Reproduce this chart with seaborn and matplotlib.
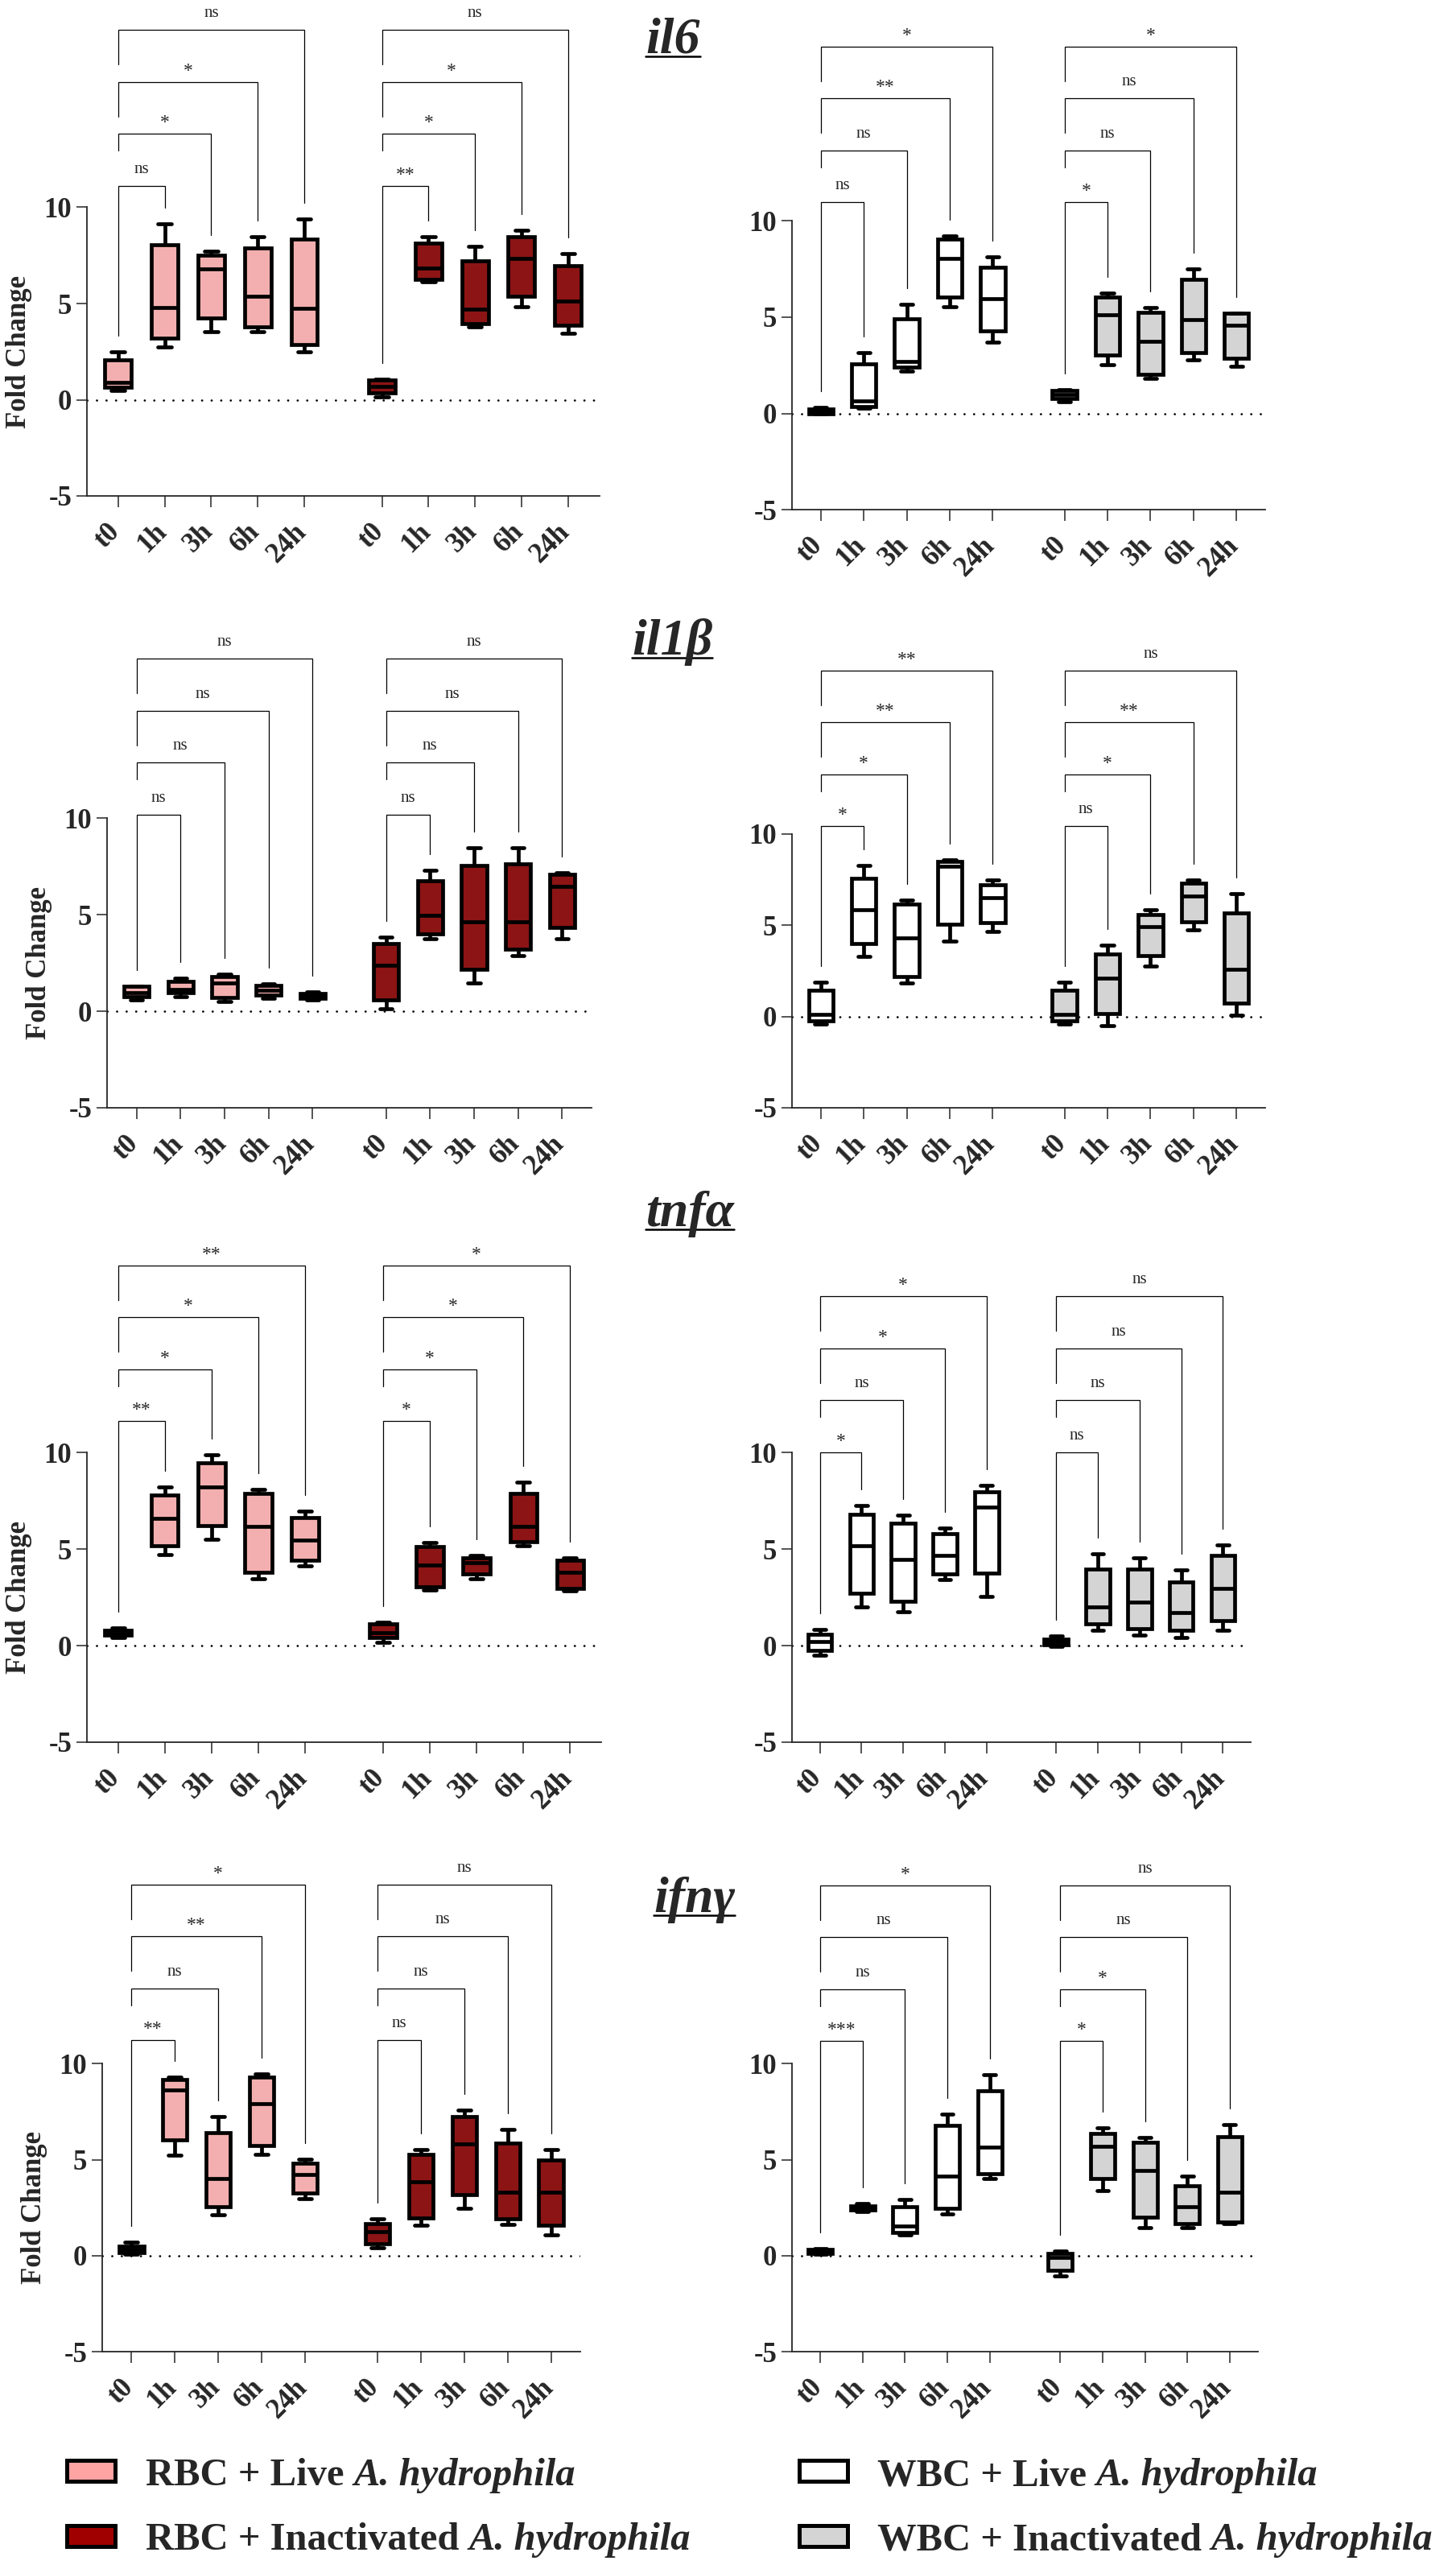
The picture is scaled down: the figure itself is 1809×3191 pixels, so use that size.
import numpy as np
import pandas as pd
import matplotlib
matplotlib.use("Agg")
import matplotlib.pyplot as plt
import seaborn as sns
from matplotlib.patches import Rectangle
from matplotlib.lines import Line2D
from matplotlib.transforms import blended_transform_factory, ScaledTranslation

# ---------------- data ----------------
time_labels = ["t0", "1h", "3h", "6h", "24h"]
gene_titles = ["il6", "il1β", "tnfα", "ifnγ"]
group_names = ["RBC + Live", "RBC + Inactivated", "WBC + Live", "WBC + Inactivated"]
species = "A. hydrophila"

# each box: [min, Q1, median, Q3, max] (Fold Change)
il6_rbc_live = [[0.50, 0.64, 0.88, 2.06, 2.47], [2.75, 3.21, 4.80, 8.07, 9.16], [3.53, 4.24, 6.80, 7.51, 7.70],
                [3.53, 3.78, 5.36, 7.89, 8.49], [2.47, 2.88, 4.75, 8.36, 9.38]]
il6_rbc_inact = [[0.13, 0.37, 0.69, 1.01, 1.07], [6.15, 6.24, 6.86, 8.15, 8.49], [3.78, 3.96, 4.71, 7.23, 7.98],
                 [4.84, 5.36, 7.33, 8.49, 8.82], [3.44, 3.87, 5.12, 6.95, 7.61]]
il6_wbc_live = [[-0.04, 0.00, 0.12, 0.22, 0.30], [0.28, 0.37, 0.65, 2.57, 3.17], [2.20, 2.39, 2.71, 4.91, 5.69],
                [5.56, 6.06, 8.06, 9.05, 9.24], [3.69, 4.29, 5.97, 7.61, 8.15]]
il6_wbc_inact = [[0.60, 0.78, 0.99, 1.21, 1.25], [2.52, 3.04, 5.13, 6.06, 6.25], [1.83, 2.05, 3.73, 5.26, 5.50],
                 [2.80, 3.17, 4.89, 6.96, 7.50], [2.43, 2.85, 4.57, 5.19, 5.22]]

il1b_rbc_live = [[0.61, 0.77, 0.96, 1.28, 1.32], [0.77, 0.96, 1.13, 1.57, 1.72], [0.52, 0.71, 1.48, 1.80, 1.92],
                 [0.67, 0.84, 1.09, 1.34, 1.42], [0.57, 0.67, 0.80, 0.94, 1.00]]
il1b_rbc_inact = [[0.13, 0.61, 2.38, 3.52, 3.83], [3.77, 4.02, 4.98, 6.78, 7.32], [1.48, 2.18, 4.64, 7.57, 8.47],
                  [2.87, 3.20, 4.64, 7.64, 8.47], [3.77, 4.35, 6.49, 7.09, 7.18]]
il1b_wbc_live = [[-0.40, -0.24, 0.10, 1.41, 1.88], [3.29, 4.00, 5.82, 7.54, 8.24], [1.82, 2.18, 4.30, 6.16, 6.36],
                 [4.10, 5.05, 8.22, 8.46, 8.59], [4.65, 5.15, 6.50, 7.21, 7.47]]
il1b_wbc_inact = [[-0.40, -0.24, 0.10, 1.41, 1.88], [-0.50, 0.16, 2.08, 3.43, 3.90], [2.77, 3.33, 4.91, 5.56, 5.82],
                  [4.75, 5.19, 6.57, 7.27, 7.47], [0.06, 0.71, 2.59, 5.66, 6.71]]

tnfa_rbc_live = [[0.41, 0.54, 0.65, 0.78, 0.91], [4.73, 5.20, 6.61, 7.80, 8.23], [5.53, 6.24, 8.23, 9.48, 9.91],
                 [3.45, 3.82, 6.18, 7.91, 8.10], [4.13, 4.41, 5.49, 6.65, 6.98]]
tnfa_rbc_inact = [[0.17, 0.41, 0.69, 1.12, 1.21], [2.87, 3.05, 4.19, 5.12, 5.34], [3.45, 3.72, 4.32, 4.56, 4.69],
                  [5.20, 5.40, 6.18, 7.91, 8.47], [2.83, 2.98, 3.80, 4.41, 4.56]]
tnfa_wbc_live = [[-0.48, -0.24, 0.22, 0.59, 0.83], [1.99, 2.73, 5.18, 6.81, 7.27], [1.76, 2.30, 4.45, 6.35, 6.77],
                 [3.43, 3.71, 4.68, 5.79, 6.10], [2.54, 3.75, 7.18, 7.96, 8.29]]
tnfa_wbc_inact = [[-0.02, 0.04, 0.22, 0.35, 0.50], [0.78, 1.15, 2.02, 3.99, 4.77], [0.54, 0.87, 2.26, 3.99, 4.55],
                  [0.41, 0.78, 1.71, 3.32, 3.93], [0.78, 1.30, 2.97, 4.68, 5.23]]

ifng_rbc_live = [[0.09, 0.17, 0.32, 0.51, 0.69], [5.22, 6.03, 8.65, 9.16, 9.31], [2.13, 2.57, 4.03, 6.40, 7.25],
                 [5.28, 5.75, 7.90, 9.31, 9.49], [2.98, 3.28, 4.21, 4.81, 5.04]]
ifng_rbc_inact = [[0.41, 0.64, 1.25, 1.67, 1.91], [1.59, 1.95, 3.84, 5.28, 5.51], [2.47, 3.16, 5.84, 7.25, 7.58],
                  [1.63, 1.91, 3.31, 5.88, 6.59], [1.10, 1.57, 3.31, 5.00, 5.51]]
ifng_wbc_live = [[0.09, 0.13, 0.22, 0.32, 0.36], [2.28, 2.38, 2.51, 2.60, 2.70], [1.07, 1.22, 1.54, 2.53, 2.94],
                 [2.19, 2.47, 4.16, 6.78, 7.38], [4.03, 4.25, 5.66, 8.61, 9.44]]
ifng_wbc_inact = [[-1.05, -0.75, -0.10, 0.10, 0.25], [3.41, 4.01, 5.71, 6.35, 6.65], [1.48, 2.00, 4.44, 5.90, 6.16],
                  [1.44, 1.69, 2.57, 3.65, 4.16], [1.67, 1.76, 3.31, 6.22, 6.82]]

# significance vs t0 for 1h, 3h, 6h, 24h
il6_rbc_live_sig = ["ns", "*", "*", "ns"]
il6_rbc_inact_sig = ["**", "*", "*", "ns"]
il6_wbc_live_sig = ["ns", "ns", "**", "*"]
il6_wbc_inact_sig = ["*", "ns", "ns", "*"]
il1b_rbc_live_sig = ["ns", "ns", "ns", "ns"]
il1b_rbc_inact_sig = ["ns", "ns", "ns", "ns"]
il1b_wbc_live_sig = ["*", "*", "**", "**"]
il1b_wbc_inact_sig = ["ns", "*", "**", "ns"]
tnfa_rbc_live_sig = ["**", "*", "*", "**"]
tnfa_rbc_inact_sig = ["*", "*", "*", "*"]
tnfa_wbc_live_sig = ["*", "ns", "*", "*"]
tnfa_wbc_inact_sig = ["ns", "ns", "ns", "ns"]
ifng_rbc_live_sig = ["**", "ns", "**", "*"]
ifng_rbc_inact_sig = ["ns", "ns", "ns", "ns"]
ifng_wbc_live_sig = ["***", "ns", "ns", "*"]
ifng_wbc_inact_sig = ["*", "*", "ns", "ns"]

# ---------------- style / layout ----------------
W, H, DPI = 1809, 3191, 100
colors = {"RBC + Live": "#FFA3A3", "RBC + Inactivated": "#A00000",
          "WBC + Live": "#FFFFFF", "WBC + Inactivated": "#D4D4D4"}
GAP = 5.67
# per panel (axis x px, spine end px, y(-5) px, px per unit)
layout = [
    [(108, 744.5, 616, 23.9), (984, 1572, 633, 23.9)],
    [(133, 735, 1376, 23.97), (984, 1572, 1376, 22.7)],
    [(108, 747, 2164, 23.97), (984, 1554, 2164, 23.97)],
    [(127, 721, 2921, 23.84), (984, 1563, 2921, 23.84)],
]
title_pos = [(802, 66), (785, 813), (802, 1523), (812, 2375)]

sns.set_style("ticks")
plt.rcParams["font.family"] = ["Liberation Serif", "DejaVu Serif"]
plt.rcParams["font.weight"] = "bold"
plt.rcParams["axes.unicode_minus"] = False
plt.rcParams["axes.linewidth"] = 1.3

fig = plt.figure(figsize=(W / DPI, H / DPI), dpi=DPI)
fig.patch.set_facecolor("white")


def fx(px):
    return px / W


def fy(py):
    return 1 - py / H


panel_data = [
    [(il6_rbc_live, il6_rbc_inact, il6_rbc_live_sig, il6_rbc_inact_sig, 0),
     (il6_wbc_live, il6_wbc_inact, il6_wbc_live_sig, il6_wbc_inact_sig, 2)],
    [(il1b_rbc_live, il1b_rbc_inact, il1b_rbc_live_sig, il1b_rbc_inact_sig, 0),
     (il1b_wbc_live, il1b_wbc_inact, il1b_wbc_live_sig, il1b_wbc_inact_sig, 2)],
    [(tnfa_rbc_live, tnfa_rbc_inact, tnfa_rbc_live_sig, tnfa_rbc_inact_sig, 0),
     (tnfa_wbc_live, tnfa_wbc_inact, tnfa_wbc_live_sig, tnfa_wbc_inact_sig, 2)],
    [(ifng_rbc_live, ifng_rbc_inact, ifng_rbc_live_sig, ifng_rbc_inact_sig, 0),
     (ifng_wbc_live, ifng_wbc_inact, ifng_wbc_live_sig, ifng_wbc_inact_sig, 2)],
]


def draw_brackets(ax, offset, maxes, labels, base, ppu):
    gap = 20 / ppu
    step = 64.5 / ppu
    legs = [None, 21 / ppu, 43 / ppu, 43 / ppu]
    for k in range(4):
        lev = base + k * step
        xl, xr = offset, offset + k + 1
        yl = maxes[0] + gap if k == 0 else lev - legs[k]
        yr = maxes[k + 1] + gap
        ax.plot([xl, xl, xr, xr], [yl, lev, lev, yr], color="black", lw=0.9,
                clip_on=False, solid_joinstyle="miter", zorder=3)
        lab = labels[k]
        off = (16 if lab == "ns" else 8) / ppu
        ax.text((xl + xr) / 2, lev + off, lab, ha="center", va="baseline",
                fontsize=15 if lab == "ns" else 17, fontweight="normal", clip_on=False)


for r in range(4):
    for c in range(2):
        x0, x1, ym5, ppu = layout[r][c]
        ax = fig.add_axes([fx(x0), fy(ym5), (x1 - x0) / W, 27 * ppu / H])
        ax.patch.set_visible(False)
        live, inact, sig_live, sig_inact, gi = panel_data[r][c]
        g_live, g_inact = group_names[gi], group_names[gi + 1]
        rows = []
        for i, box in enumerate(live):
            for v in box:
                rows.append({"pos": float(i), "value": v, "group": g_live})
        for i, box in enumerate(inact):
            for v in box:
                rows.append({"pos": GAP + i, "value": v, "group": g_inact})
        df = pd.DataFrame(rows)
        sns.boxplot(data=df, x="pos", y="value", hue="group", hue_order=[g_live, g_inact],
                    palette=colors, native_scale=True, dodge=False, whis=(0, 100),
                    showfliers=False, width=0.57, linewidth=3.4, linecolor="black",
                    legend=False, ax=ax)
        ax.axhline(0, color="black", lw=1.9, linestyle=(0, (0.1, 4.4)),
                   dash_capstyle="round", zorder=1.5)
        overall_max = max(max(b[4] for b in live), max(b[4] for b in inact))
        base = overall_max + 41.5 / ppu
        draw_brackets(ax, 0.0, [b[4] for b in live], sig_live, base, ppu)
        draw_brackets(ax, GAP, [b[4] for b in inact], sig_inact, base, ppu)

        ax.set_xlim(-0.67, GAP + 4.67)
        ax.set_ylim(-5, 22)
        positions = [0, 1, 2, 3, 4] + [GAP + i for i in range(5)]
        ax.set_xticks(positions)
        ax.set_xticklabels(time_labels * 2, rotation=45, ha="right", fontweight="bold")
        ax.set_yticks([-5, 0, 5, 10])
        ax.set_yticklabels(["-5", "0", "5", "10"], fontweight="bold")
        ax.tick_params(axis="y", length=9.5, width=1.1, labelsize=25, pad=4)
        ax.tick_params(axis="x", length=10, width=1.1, labelsize=25, pad=10)
        shift = ScaledTranslation(9 / DPI, 0, fig.dpi_scale_trans)
        for lab in ax.get_xticklabels():
            lab.set_transform(lab.get_transform() + shift)
        ax.set_xlabel("")
        if c == 0:
            ax.set_ylabel("Fold Change", fontsize=25, fontweight="bold")
            ax.yaxis.set_label_coords(-68 / (x1 - x0), 2.5,
                                      transform=blended_transform_factory(ax.transAxes, ax.transData))
        else:
            ax.set_ylabel("")
        ax.spines["top"].set_visible(False)
        ax.spines["right"].set_visible(False)
        ax.spines["left"].set_bounds(-5, 10)

# gene titles
titles = []
for (tx, ty), name in zip(title_pos, gene_titles):
    t = fig.text(fx(tx), fy(ty), name, fontsize=46, fontweight="bold", style="italic",
                 ha="left", va="baseline")
    titles.append((t, ty))

# legend
legend_entries = [
    (group_names[0], 80, 3069, 181, 3087),
    (group_names[1], 80, 3150, 181, 3167),
    (group_names[2], 990, 3069, 1090, 3087),
    (group_names[3], 990, 3150, 1090, 3167),
]
texts = []
for name, px, pcy, tx, tb in legend_entries:
    rect = Rectangle((fx(px + 2.5), fy(pcy + 13)), 60 / W, 26 / H, transform=fig.transFigure,
                     facecolor=colors[name], edgecolor="black", linewidth=3.6)
    fig.add_artist(rect)
    t = fig.text(fx(tx), fy(tb), name, fontsize=35, fontweight="bold", ha="left", va="baseline")
    texts.append((t, tb))

fig.canvas.draw()
renderer = fig.canvas.get_renderer()
for t, tb in texts:
    bb = t.get_window_extent(renderer)
    xs = bb.x1 + 12
    fig.text(xs / W, fy(tb), species, fontsize=35, fontweight="bold", style="italic",
             ha="left", va="baseline")
for t, ty in titles:
    bb = t.get_window_extent(renderer)
    uy = fy(ty + 4)
    fig.add_artist(Line2D([bb.x0 / W, bb.x1 / W], [uy, uy], transform=fig.transFigure,
                          color="black", lw=1.8))

fig.savefig("out.png", dpi=DPI)
